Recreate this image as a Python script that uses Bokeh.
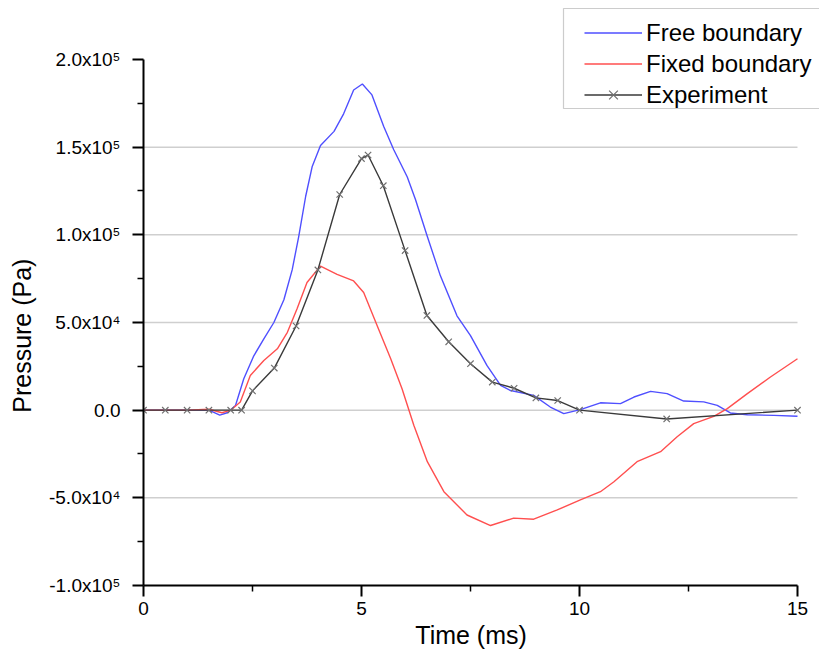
from bokeh.plotting import figure
from bokeh.models import Range1d, FixedTicker, Legend, LegendItem, BoxAnnotation
from bokeh.embed import file_html
from bokeh.resources import INLINE

# ---- data ----
free_x = [0, 0.5, 1.0, 1.5, 1.75, 1.92, 2.11, 2.30, 2.53, 2.76, 2.99, 3.22, 3.41, 3.56,
          3.72, 3.87, 4.06, 4.37, 4.59, 4.82, 5.02, 5.24, 5.51, 5.74, 6.05, 6.24, 6.51,
          6.81, 7.19, 7.5, 7.88, 8.19, 8.42, 8.95, 9.33, 9.64, 10.02, 10.48, 10.94, 11.25,
          11.63, 12.01, 12.39, 12.85, 13.16, 13.46, 13.85, 14.46, 15.0]
free_y = [0, 0, 0, 0, -2800, -1500, 2700, 17900, 31000, 40600, 50000, 63000, 80000, 99000,
          122000, 139000, 151000, 159000, 169000, 182600, 186000, 179800, 161800, 148500,
          133000, 120000, 99000, 76600, 53800, 42500, 25400, 14100, 11200, 8400, 1800,
          -2000, 300, 4200, 3700, 7500, 10700, 9400, 5200, 4700, 2700, -1600, -2600, -3000,
          -3500]

fixed_x = [0, 0.5, 1.0, 1.5, 1.8, 2.0, 2.22, 2.45, 2.76, 3.07, 3.3, 3.52, 3.75, 4.06,
           4.44, 4.82, 5.05, 5.36, 5.67, 5.93, 6.2, 6.51, 6.89, 7.42, 7.96, 8.49, 8.95,
           9.49, 10.02, 10.48, 10.79, 11.32, 11.86, 12.24, 12.62, 13.08, 13.39, 13.85,
           14.38, 15.0]
fixed_y = [0, 0, 0, 500, -1500, 0, 4700, 19800, 28300, 35000, 44400, 57700, 72800, 82200,
           77500, 73700, 67100, 48200, 29300, 12200, -8600, -29400, -46500, -59800, -65800,
           -61600, -62200, -56900, -51200, -46500, -40800, -29400, -23700, -15200, -7700,
           -3500, 900, 9400, 18900, 29300]

exp_x = [0, 0.5, 1.0, 1.5, 2.0, 2.25, 2.5, 3.0, 3.5, 4.0, 4.5, 5.0, 5.15, 5.5, 6.0, 6.5,
         7.0, 7.5, 8.0, 8.5, 9.0, 9.5, 10.0, 12.0, 15.0]
exp_y = [0, 0, 0, 0, 0, 0, 11000, 24000, 48000, 80000, 123000, 143500, 145500, 128000,
         91000, 54000, 39000, 26500, 16000, 12500, 7000, 5500, 0, -5000, 0]

x_ticks = [0, 5, 10, 15]
x_minor = [2.5, 7.5, 12.5]
y_ticks = [-100000, -50000, 0, 50000, 100000, 150000, 200000]
y_minor = [-75000, -25000, 25000, 75000, 125000, 175000]
y_labels = ["-1.0x10\u2075", "-5.0x10\u2074", "0.0", "5.0x10\u2074",
            "1.0x10\u2075", "1.5x10\u2075", "2.0x10\u2075"]
grid_ticks = [-50000, 0, 50000, 100000, 150000]

FONT = "Liberation Sans"
NBSP = "\u00a0"

# The frame reaches the top and right edges of the page so that the legend can stand
# beyond the axes; both axes are bounded to the data ranges.
p = figure(width=819, height=654, output_backend="svg", toolbar_location=None,
           x_range=Range1d(0, 15.505), y_range=Range1d(-100000, 232500),
           min_border_left=143, min_border_right=0, min_border_top=2,
           min_border_bottom=69)
p.outline_line_color = None
p.background_fill_color = "white"
p.border_fill_color = "white"
p.xgrid.visible = False
p.ygrid.visible = False

# horizontal grid lines, limited to the x-axis extent
p.segment(x0=[x_ticks[0]] * len(grid_ticks), x1=[x_ticks[-1]] * len(grid_ticks),
          y0=grid_ticks, y1=grid_ticks, line_color="#cfcfcf", line_width=1.5,
          level="underlay")

for ax in (p.xaxis[0], p.yaxis[0]):
    ax.axis_line_width = 2
    ax.axis_line_color = "black"
    ax.major_tick_line_width = 2
    ax.minor_tick_line_width = 1.5
    ax.major_tick_out = 11
    ax.major_tick_in = 0
    ax.minor_tick_out = 6
    ax.minor_tick_in = 0
    ax.major_label_text_font = FONT
    ax.major_label_text_font_size = "19px"
    ax.major_label_text_color = "black"
    ax.axis_label_text_font = FONT
    ax.axis_label_text_font_size = "25px"
    ax.axis_label_text_font_style = "normal"
    ax.axis_label_text_color = "black"

p.xaxis.bounds = (x_ticks[0], x_ticks[-1])
p.yaxis.bounds = (y_ticks[0], y_ticks[-1])
p.xaxis.ticker = FixedTicker(ticks=x_ticks, minor_ticks=x_minor)
p.yaxis.ticker = FixedTicker(ticks=y_ticks, minor_ticks=y_minor)
p.yaxis.major_label_overrides = {float(t): l for t, l in zip(y_ticks, y_labels)}
p.xaxis.major_label_standoff = 5
p.yaxis.major_label_standoff = 12
# trailing no-break spaces re-centre the titles on the bounded axes
p.xaxis.axis_label = "Time (ms)" + NBSP * 3
p.yaxis.axis_label = "Pressure (Pa)" + NBSP * 12
p.xaxis.axis_label_standoff = 3
p.yaxis.axis_label_standoff = 10

r_free = p.line(free_x, free_y, line_color="#4f4fff", line_width=1.4)
r_fixed = p.line(fixed_x, fixed_y, line_color="#ff4f4f", line_width=1.4)
r_exp_l = p.line(exp_x, exp_y, line_color="#3a3a3a", line_width=1.4)
r_exp_m = p.scatter(exp_x, exp_y, marker="x", size=9, line_color="#707070", line_width=1.2)

# legend frame (screen units, relative to the plot frame's bottom-left corner)
box = BoxAnnotation(left=420, right=720, bottom=477, top=577,
                    left_units="screen", right_units="screen",
                    bottom_units="screen", top_units="screen",
                    fill_color="white", fill_alpha=1.0,
                    line_color="#555555", line_width=1.2)
p.add_layout(box)

legend = Legend(items=[
    LegendItem(label="Free boundary", renderers=[r_free]),
    LegendItem(label="Fixed boundary", renderers=[r_fixed]),
    LegendItem(label="Experiment", renderers=[r_exp_l, r_exp_m]),
], location=(441, 475))
legend.label_text_font = FONT
legend.label_text_font_size = "24px"
legend.label_text_color = "black"
legend.glyph_width = 58
legend.glyph_height = 31
legend.label_height = 31
legend.label_standoff = 4
legend.spacing = 0
legend.padding = 5
legend.margin = 0
legend.border_line_color = None
legend.background_fill_alpha = 0.0
p.add_layout(legend, "center")

open("out.html", "w").write(file_html(p, INLINE))
